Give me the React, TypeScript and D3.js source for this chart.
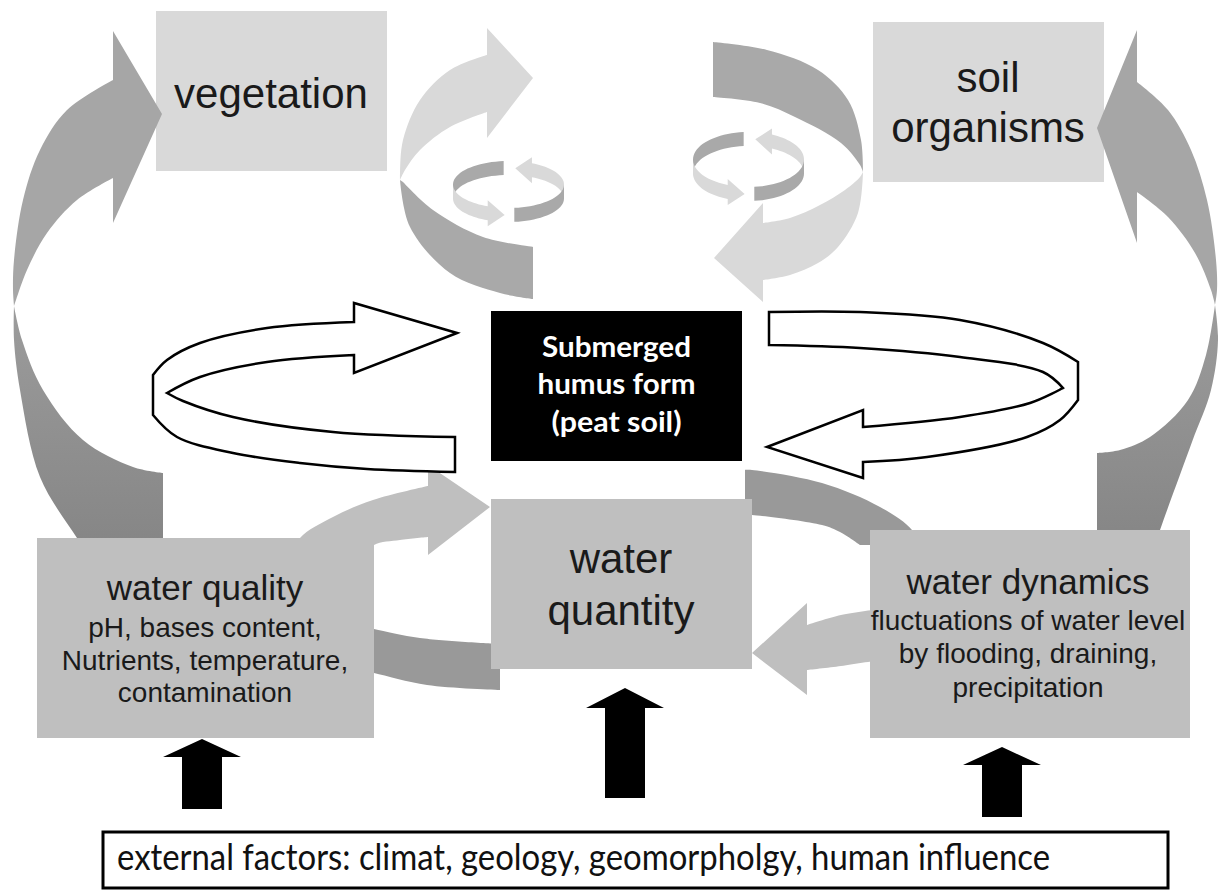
import * as d3 from "d3";

type Pt = [number, number];
type Seg = { pts: Pt[]; smooth?: boolean };

const W = 1218;
const H = 890;

// boxes: top row drawn under the big arrows, bottom row drawn over the arrow tails
const TOP_BOXES = [
  { id: "vegetation", x0: 156, y0: 11, x1: 387, y1: 171, fill: "#d9d9d9" },
  { id: "soil", x0: 873, y0: 22, x1: 1104, y1: 182, fill: "#d9d9d9" },
];
const BOTTOM_BOXES = [
  { id: "quality", x0: 37, y0: 538, x1: 374, y1: 738, fill: "#bfbfbf" },
  { id: "quantity", x0: 491, y0: 499, x1: 752, y1: 669, fill: "#bfbfbf" },
  { id: "dynamics", x0: 870, y0: 530, x1: 1190, y1: 738, fill: "#bfbfbf" },
];
const CORE_BOX = { x0: 491, y0: 311, x1: 742, y1: 461 };

const LABELS = [
  { text: "vegetation", x: 271, y: 108, size: 42 },
  { text: "soil", x: 988, y: 92, size: 42 },
  { text: "organisms", x: 988, y: 142, size: 42 },
  { text: "water quality", x: 205, y: 600, size: 35 },
  { text: "pH, bases content,", x: 205, y: 637, size: 28 },
  { text: "Nutrients, temperature,", x: 205, y: 670, size: 28 },
  { text: "contamination", x: 205, y: 702, size: 28 },
  { text: "water", x: 621, y: 573, size: 42 },
  { text: "quantity", x: 621, y: 625, size: 42 },
  { text: "water dynamics", x: 1028, y: 594, size: 35 },
  { text: "fluctuations of water level", x: 1028, y: 630, size: 28 },
  { text: "by flooding, draining,", x: 1028, y: 663, size: 28 },
  { text: "precipitation", x: 1028, y: 697, size: 28 },
];

const CORE_LINES = [
  { text: "Submerged", y: 357, len: 149 },
  { text: "humus form", y: 394, len: 158 },
  { text: "(peat soil)", y: 432, len: 130 },
];

const EXTERNAL = {
  text: "external factors: climat, geology, geomorpholgy, human influence",
  box: { x0: 103, y0: 832, x1: 1168, y1: 888 },
  x: 117, y: 870, len: 933,
};

// black block arrows pointing up from the external factors
const UP_ARROWS = [
  { cx: 202, tip: 739, head: 757, headHalf: 39, shaftHalf: 20, bottom: 809 },
  { cx: 625, tip: 688, head: 708, headHalf: 39, shaftHalf: 20, bottom: 798 },
  { cx: 1002, tip: 747, head: 765, headHalf: 39, shaftHalf: 20, bottom: 817 },
];

// big twisted arrows on the left and right edges
const BIG_LEFT_UPPER: Seg[] = [
  { pts: [[162, 114], [113, 223], [113, 178]] },
  { pts: [[113, 178], [77, 200], [47, 233], [27, 270], [16, 300], [14, 306]], smooth: true },
  { pts: [[14, 306], [13, 290], [14, 260], [23, 200], [40, 150], [67, 110], [113, 80]], smooth: true },
  { pts: [[113, 80], [113, 31], [162, 114]] },
];
const BIG_LEFT_LOWER: Seg[] = [
  { pts: [[14, 306], [14, 340], [20, 390], [40, 477], [77, 538], [95, 565]], smooth: true },
  { pts: [[95, 565], [163, 565], [163, 473]] },
  { pts: [[163, 473], [133, 467], [83, 440], [43, 390], [22, 340], [14, 306]], smooth: true },
];
const BIG_RIGHT_UPPER: Seg[] = [
  { pts: [[1097, 128], [1137, 243], [1137, 192]] },
  { pts: [[1137, 192], [1168, 217], [1195, 253], [1211, 290], [1215, 305]], smooth: true },
  { pts: [[1215, 305], [1217, 290], [1216, 260], [1207, 200], [1191, 150], [1168, 110], [1137, 82]], smooth: true },
  { pts: [[1137, 82], [1137, 30], [1097, 128]] },
];
const BIG_RIGHT_LOWER: Seg[] = [
  { pts: [[1215, 305], [1218, 340], [1211, 390], [1192, 442], [1160, 530], [1150, 560]], smooth: true },
  { pts: [[1150, 560], [1097, 560], [1097, 453]] },
  { pts: [[1097, 453], [1120, 450], [1150, 437], [1188, 400], [1206, 355], [1215, 305]], smooth: true },
];

// top-centre swirl arrows
const SWIRL_LEFT_LIGHT: Seg[] = [
  { pts: [[533, 78], [487, 138], [487, 112]] },
  { pts: [[487, 112], [450, 127], [420, 150], [405, 170], [400, 180]], smooth: true },
  { pts: [[400, 180], [400, 173], [403, 140], [420, 100], [450, 70], [487, 55]], smooth: true },
  { pts: [[487, 55], [487, 28], [533, 78]] },
];
const SWIRL_LEFT_DARK: Seg[] = [
  { pts: [[400, 180], [410, 227], [450, 273], [500, 293], [533, 299]], smooth: true },
  { pts: [[533, 299], [533, 247]] },
  { pts: [[533, 247], [483, 237], [433, 210], [403, 182]], smooth: true },
];
const SWIRL_RIGHT_DARK: Seg[] = [
  { pts: [[713, 42], [713, 97]] },
  { pts: [[713, 97], [760, 103], [795, 117], [841, 143], [860, 165], [863, 172]], smooth: true },
  { pts: [[863, 172], [861, 140], [848, 100], [818, 70], [767, 50], [713, 42]], smooth: true },
];
const SWIRL_RIGHT_LIGHT: Seg[] = [
  { pts: [[863, 172], [858, 213], [838, 247], [818, 263], [790, 275], [763, 280]], smooth: true },
  { pts: [[763, 280], [763, 302], [714, 258], [763, 203], [763, 223]] },
  { pts: [[763, 223], [790, 218], [820, 205], [845, 190], [860, 177], [863, 172]], smooth: true },
];

// small 3D rings inside the swirls
const RINGS = [
  { cx: 508.5, cy: 184.5, rx: 55.5, ry: 23.5, h: 14 },
  { cx: 748.5, cy: 159.5, rx: 55.5, ry: 27.5, h: 14 },
];

// white outlined ribbon arrows round the core box
const RIBBON_LEFT: Seg[] = [
  { pts: [[457, 333], [354, 373], [354, 355]] },
  { pts: [[354, 355], [267, 362], [200, 377], [167, 393]], smooth: true },
  { pts: [[167, 393], [183, 401], [233, 417], [333, 432], [455, 437]], smooth: true },
  { pts: [[455, 437], [455, 472]] },
  { pts: [[455, 472], [367, 469], [300, 463], [233, 453], [177, 437], [153, 415]], smooth: true },
  { pts: [[153, 415], [153, 375]] },
  { pts: [[153, 375], [167, 360], [200, 343], [267, 328], [354, 322]], smooth: true },
  { pts: [[354, 322], [354, 303], [457, 333]] },
];
const RIBBON_RIGHT: Seg[] = [
  { pts: [[767, 447], [863, 410], [863, 427]] },
  { pts: [[863, 427], [960, 417], [1030, 403], [1063, 388]], smooth: true },
  { pts: [[1063, 388], [1043, 372], [960, 357], [860, 348], [769, 345]], smooth: true },
  { pts: [[769, 345], [769, 312]] },
  { pts: [[769, 312], [860, 312], [960, 320], [1043, 343], [1078, 362]], smooth: true },
  { pts: [[1078, 362], [1078, 400]] },
  { pts: [[1078, 400], [1060, 420], [1027, 437], [927, 457], [863, 462]], smooth: true },
  { pts: [[863, 462], [863, 478], [767, 447]] },
];

// connecting arrows between the bottom boxes
const QUAL_TO_QUANT: Seg[] = [
  { pts: [[290, 560], [300, 538], [333, 517], [373, 500], [428, 486]], smooth: true },
  { pts: [[428, 486], [428, 465], [490, 507], [428, 555], [428, 537]] },
  { pts: [[428, 537], [400, 540], [374, 545], [360, 560]], smooth: true },
];
const QUANT_BACK_LEFT: Seg[] = [
  { pts: [[360, 626], [374, 629], [420, 638], [500, 644]], smooth: true },
  { pts: [[500, 644], [500, 690]] },
  { pts: [[500, 690], [427, 685], [374, 673], [360, 670]], smooth: true },
];
const QUANT_BACK_RIGHT: Seg[] = [
  { pts: [[745, 470], [752, 470], [822, 483], [880, 507], [912, 530], [918, 545]], smooth: true },
  { pts: [[918, 545], [860, 545]] },
  { pts: [[860, 545], [840, 532], [822, 525], [752, 515], [745, 515]], smooth: true },
];
const DYN_TO_QUANT: Seg[] = [
  { pts: [[752, 653], [807, 603], [807, 625]] },
  { pts: [[807, 625], [841, 615], [880, 609]], smooth: true },
  { pts: [[880, 609], [880, 660]] },
  { pts: [[880, 660], [841, 666], [807, 670]], smooth: true },
  { pts: [[807, 670], [807, 695], [752, 653]] },
];

const smoothLine = d3.line<Pt>().curve(d3.curveCatmullRom.alpha(0.5));
const straightLine = d3.line<Pt>();

function shape(segs: Seg[]): string {
  let d = "";
  segs.forEach((s, i) => {
    let part = (s.smooth ? smoothLine : straightLine)(s.pts) || "";
    if (i > 0) part = part.replace(/^M/, "L");
    d += part;
  });
  return d + "Z";
}

const rad = (deg: number) => (deg * Math.PI) / 180;

function ringPieces(r: { cx: number; cy: number; rx: number; ry: number; h: number }) {
  const top = (a: number): Pt => [r.cx + r.rx * Math.cos(rad(a)), r.cy + r.ry * Math.sin(rad(a))];
  const bot = (a: number): Pt => {
    const p = top(a);
    return [p[0], p[1] + r.h];
  };
  const band = (a0: number, a1: number) => {
    const angles = d3.range(0, 21).map((i) => a0 + ((a1 - a0) * i) / 20);
    return [...angles.map(top), ...angles.slice().reverse().map(bot)];
  };
  const arrow = (aTail: number, aBack: number, aTip: number) => {
    const angles = d3.range(0, 21).map((i) => aTail + ((aBack - aTail) * i) / 20);
    const tb = top(aBack);
    const bb = bot(aBack);
    const tp = top(aTip);
    const tip: Pt = [tp[0], tp[1] + r.h / 2];
    return [
      ...angles.map(top),
      [tb[0], tb[1] - 6] as Pt,
      tip,
      [bb[0], bb[1] + 6] as Pt,
      ...angles.slice().reverse().map(bot),
    ];
  };
  const line = d3.line<Pt>();
  return [
    { d: line(band(180, 265)) + "Z", fill: "#a9a9a9" },
    { d: line(arrow(360, 295, 277)) + "Z", fill: "#d9d9d9" },
    { d: line(band(0, 84)) + "Z", fill: "#a9a9a9" },
    { d: line(arrow(180, 112, 94)) + "Z", fill: "#d9d9d9" },
  ];
}

function upArrow(a: (typeof UP_ARROWS)[number]): string {
  const pts: Pt[] = [
    [a.cx, a.tip],
    [a.cx + a.headHalf, a.head],
    [a.cx + a.shaftHalf, a.head],
    [a.cx + a.shaftHalf, a.bottom],
    [a.cx - a.shaftHalf, a.bottom],
    [a.cx - a.shaftHalf, a.head],
    [a.cx - a.headHalf, a.head],
  ];
  return straightLine(pts) + "Z";
}

const ARIAL = "'Liberation Sans', Arial, sans-serif";
const CALIBRI = "Lato, 'Open Sans', sans-serif";

export default function App() {
  const rect = (b: { x0: number; y0: number; x1: number; y1: number }) => ({
    x: b.x0,
    y: b.y0,
    width: b.x1 - b.x0,
    height: b.y1 - b.y0,
  });

  return (
    <div style={{ position: "absolute", left: 0, top: 0 }}>
      <svg width={W} height={H} style={{ display: "block", background: "#fff" }}>
        <defs>
          <linearGradient id="lowerGrad" x1="0" y1="0" x2="0" y2="1">
            <stop offset="0%" stopColor="#9c9c9c" />
            <stop offset="100%" stopColor="#848484" />
          </linearGradient>
        </defs>

        {TOP_BOXES.map((b) => (
          <rect key={b.id} {...rect(b)} fill={b.fill} />
        ))}

        <path d={shape(BIG_LEFT_LOWER)} fill="url(#lowerGrad)" />
        <path d={shape(BIG_LEFT_UPPER)} fill="#a6a6a6" />
        <path d={shape(BIG_RIGHT_LOWER)} fill="url(#lowerGrad)" />
        <path d={shape(BIG_RIGHT_UPPER)} fill="#a6a6a6" />

        <path d={shape(SWIRL_LEFT_DARK)} fill="#a9a9a9" />
        <path d={shape(SWIRL_LEFT_LIGHT)} fill="#d9d9d9" />
        <path d={shape(SWIRL_RIGHT_DARK)} fill="#a9a9a9" />
        <path d={shape(SWIRL_RIGHT_LIGHT)} fill="#d9d9d9" />

        {RINGS.map((r, i) =>
          ringPieces(r).map((p, j) => <path key={`${i}-${j}`} d={p.d} fill={p.fill} />)
        )}

        <path d={shape(QUANT_BACK_LEFT)} fill="#999999" />
        <path d={shape(QUANT_BACK_RIGHT)} fill="#999999" />
        <path d={shape(QUAL_TO_QUANT)} fill="#bfbfbf" />
        <path d={shape(DYN_TO_QUANT)} fill="#bfbfbf" />

        <path d={shape(RIBBON_LEFT)} fill="#fff" stroke="#000" strokeWidth={2.5} strokeLinejoin="miter" />
        <path d={shape(RIBBON_RIGHT)} fill="#fff" stroke="#000" strokeWidth={2.5} strokeLinejoin="miter" />

        <rect {...rect(CORE_BOX)} fill="#000" />

        {BOTTOM_BOXES.map((b) => (
          <rect key={b.id} {...rect(b)} fill={b.fill} />
        ))}

        {UP_ARROWS.map((a, i) => (
          <path key={i} d={upArrow(a)} fill="#000" />
        ))}

        <rect {...rect(EXTERNAL.box)} fill="#fff" stroke="#000" strokeWidth={3} />

        {LABELS.map((l, i) => (
          <text
            key={i}
            x={l.x}
            y={l.y}
            fontSize={l.size}
            fontFamily={ARIAL}
            textAnchor="middle"
            fill="#1a1a1a"
          >
            {l.text}
          </text>
        ))}

        {CORE_LINES.map((l, i) => (
          <text
            key={i}
            x={(CORE_BOX.x0 + CORE_BOX.x1) / 2}
            y={l.y}
            fontSize={28}
            fontWeight={700}
            fontFamily={CALIBRI}
            textAnchor="middle"
            fill="#fff"
            textLength={l.len}
            lengthAdjust="spacingAndGlyphs"
          >
            {l.text}
          </text>
        ))}

        <text
          x={EXTERNAL.x}
          y={EXTERNAL.y}
          fontSize={36}
          fontFamily={CALIBRI}
          fill="#111"
          textLength={EXTERNAL.len}
          lengthAdjust="spacingAndGlyphs"
        >
          {EXTERNAL.text}
        </text>
      </svg>
    </div>
  );
}
